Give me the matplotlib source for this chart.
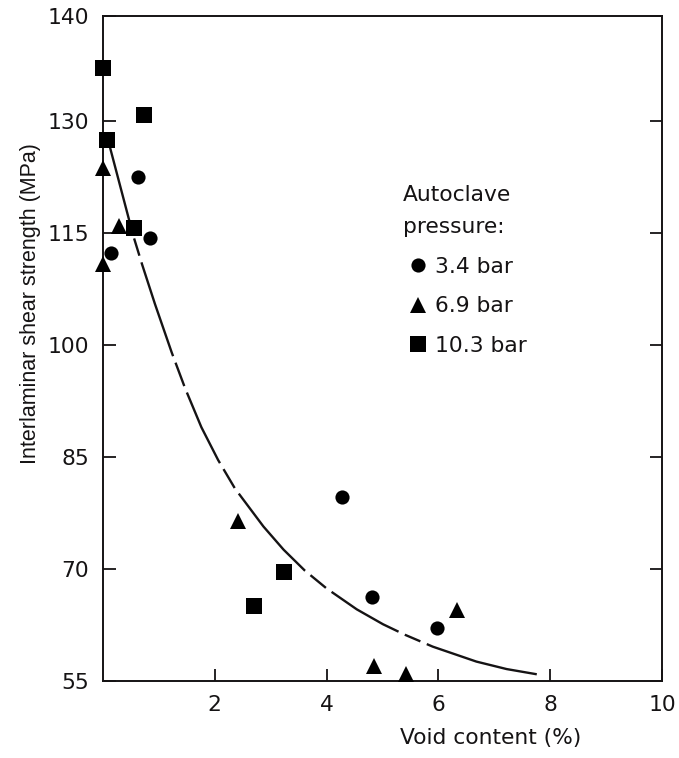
import numpy as np
import matplotlib
matplotlib.use("Agg")
import matplotlib.pyplot as plt
from matplotlib.lines import Line2D

# Measured interlaminar shear strength vs. void content, by autoclave pressure
circ_x = [0.62, 0.14, 0.84, 4.28, 4.81, 5.98]          # 3.4 bar
circ_y = [122.5, 112.3, 114.4, 79.6, 66.2, 62.1]
tri_x = [0.0, 0.29, 0.0, 2.41, 4.84, 5.42, 6.34]       # 6.9 bar
tri_y = [123.7, 115.9, 110.9, 76.4, 57.0, 56.0, 64.5]
sq_x = [0.0, 0.74, 0.08, 0.55, 2.70, 3.24]             # 10.3 bar
sq_y = [135.1, 130.6, 127.5, 115.7, 65.1, 69.6]

# Trend curve through the data
trend_x = [0.09, 0.54, 0.70, 0.93, 1.23, 1.47, 1.76, 2.06, 2.36, 2.87,
           3.23, 3.61, 4.00, 4.54, 5.01, 5.40, 5.90, 6.68, 7.22, 7.76]
trend_y = [127.5, 114.7, 110.8, 105.5, 99.0, 94.2, 89.0, 84.6, 80.8, 75.7,
           72.6, 69.8, 67.4, 64.6, 62.6, 61.2, 59.6, 57.6, 56.6, 55.9]

x_ticks = [2, 4, 6, 8, 10]
y_ticks = [55, 70, 85, 100, 115, 130, 140]
legend_labels = ["3.4 bar", "6.9 bar", "10.3 bar"]

INK = "#151314"
FS = 15.7
plt.rcParams["lines.scale_dashes"] = False
plt.rcParams["font.family"] = ["DejaVu Sans"]

# long/short dash rhythm of the trend curve (points)
TREND_DASHES = (68.4, 5, 13, 5, 71.3, 5, 18, 5, 56.2, 5, 15.8, 5,
                73.4, 5, 14.4, 5, 56.2, 5, 12.2, 5, 93.6, 7.2)

# the top band of the strength axis (130-140) is drawn stretched
K = 1.41


def fwd(y):
    y = np.asarray(y, dtype=float)
    return np.where(y <= 130, y, 130 + (y - 130) * K)


def inv(y):
    y = np.asarray(y, dtype=float)
    return np.where(y <= 130, y, 130 + (y - 130) / K)


fig = plt.figure(figsize=(6.79, 7.58), dpi=100)
ax = fig.add_axes([103 / 679, 1 - 681 / 758, 559 / 679, 665 / 758])
ax.set_yscale("function", functions=(fwd, inv))
ax.set_xlim(0, 10)
ax.set_ylim(55, 140)

ax.plot(trend_x, trend_y, color=INK, lw=1.7, ls=(0, TREND_DASHES),
        solid_capstyle="butt", dash_capstyle="butt",
        solid_joinstyle="round", dash_joinstyle="round", zorder=2)

mk = dict(ls="none", color="black", mew=0, zorder=3, clip_on=False)
ax.plot(circ_x, circ_y, marker="o", ms=10.2, **mk)
ax.plot(tri_x, tri_y, marker="^", ms=11.5, **mk)
ax.plot(sq_x, sq_y, marker="s", ms=11.5, **mk)

ax.set_xticks(x_ticks)
ax.set_xticklabels([str(v) for v in x_ticks])
ax.set_yticks(y_ticks)
ax.set_yticklabels([str(v) for v in y_ticks])
ax.tick_params(axis="both", direction="in", length=9, width=1.3, color=INK,
               labelsize=FS, labelcolor=INK, pad=10)
ax.tick_params(axis="y", right=True, labelright=False)
ax.tick_params(axis="x", top=False)
for s in ax.spines.values():
    s.set_color(INK)
    s.set_linewidth(1.4)

ax.set_xlabel("Void content (%)", fontsize=FS, color=INK)
ax.xaxis.set_label_coords(0.694, -0.070)
ax.xaxis.label.set_va("top")
ax.set_ylabel("Interlaminar shear strength (MPa)", fontsize=15.5, color=INK,
              family=["Liberation Sans"])
ax.yaxis.set_label_coords(-0.111, 0.568)

handles = [Line2D([], [], ls="none", marker="o", ms=10.2, color="black", mew=0),
           Line2D([], [], ls="none", marker="^", ms=11.5, color="black", mew=0),
           Line2D([], [], ls="none", marker="s", ms=11.5, color="black", mew=0)]
leg = ax.legend(handles, legend_labels, title="Autoclave\npressure:",
                loc="upper left", bbox_to_anchor=(0.537, 0.746),
                frameon=False, borderaxespad=0, borderpad=0,
                handlelength=1.38, handletextpad=0.1, labelspacing=0.9,
                fontsize=FS, title_fontsize=FS, alignment="left")
for t in leg.get_texts():
    t.set_color(INK)
leg.get_title().set_color(INK)
leg.get_title().set_linespacing(1.75)

fig.savefig("out.png", dpi=100)
